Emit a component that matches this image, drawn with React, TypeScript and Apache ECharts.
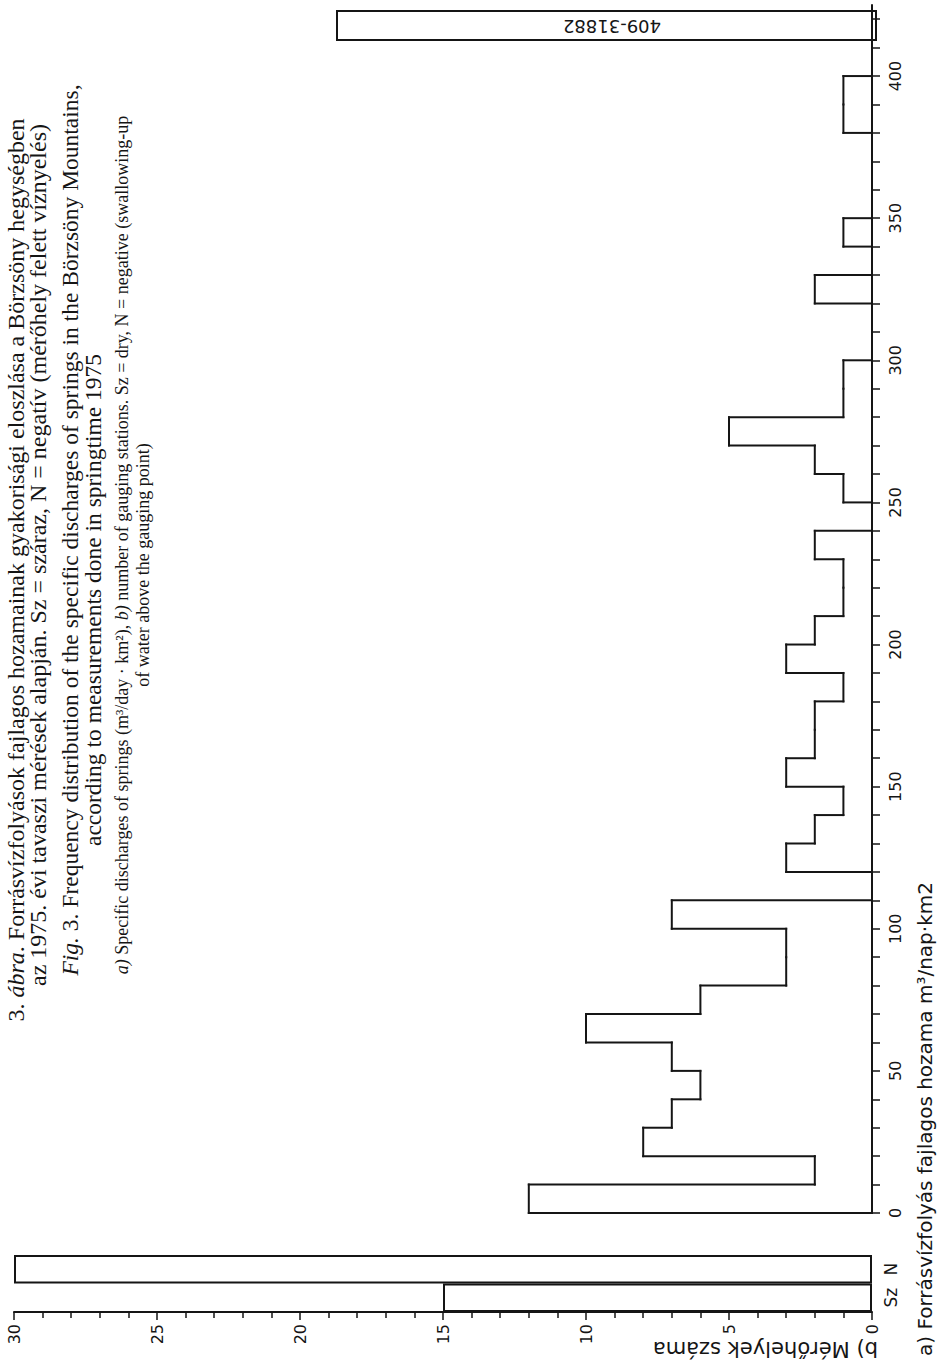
import React, { useEffect, useRef } from "react";
import * as echarts from "echarts";

// Histogram: spring discharge bins (m3/day·km2), 10 units wide, and counts per bin
const binStarts = [0, 10, 20, 30, 40, 50, 60, 70, 80, 90, 100, 110, 120, 130, 140, 150, 160, 170, 180, 190, 200, 210, 220, 230, 240, 250, 260, 270, 280, 290, 300, 310, 320, 330, 340, 350, 360, 370, 380, 390];
const binWidth = 10;
const springCounts = [12, 2, 8, 7, 6, 7, 10, 6, 3, 3, 7, 0, 3, 2, 1, 3, 2, 2, 1, 3, 2, 1, 1, 2, 0, 1, 2, 5, 1, 1, 0, 0, 2, 0, 1, 0, 0, 0, 1, 1];

// Dry (Sz) and negative (N) gauging stations
const specialCategories = ["Sz", "N"];
const specialCounts = [15, 30];

// Tick values
const dischargeLabels = [0, 50, 100, 150, 200, 250, 300, 350, 400];
const dischargeTicks = [0, 10, 20, 30, 40, 50, 60, 70, 80, 90, 100, 110, 120, 130, 140, 150, 160, 170, 180, 190, 200, 210, 220, 230, 240, 250, 260, 270, 280, 290, 300, 310, 320, 330, 340, 350, 360, 370, 380, 390, 400, 410, 420];

const captionLines = [
  "3. {i|ábra}. Forrásvízfolyások fajlagos hozamainak gyakorisági eloszlása a Börzsöny hegységben",
  "az 1975. évi tavaszi mérések alapján. Sz = száraz, N = negatív (mérőhely felett víznyelés)",
  "{i|Fig.} 3. Frequency distribution of the specific discharges of springs in the Börzsöny Mountains,",
  "according to measurements done in springtime 1975",
  "{i|a)} Specific discharges of springs (m³/day · km²), {i|b)} number of gauging stations. Sz = dry, N = negative (swallowing-up",
  "of water above the gauging point)",
];

const INK = "#151515";
const SANS = "'DejaVu Sans', 'Liberation Sans', Arial, sans-serif";
const SERIF = "'Liberation Serif', 'Times New Roman', serif";

export default function App() {
  const ref = useRef<HTMLDivElement>(null);

  useEffect(() => {
    if (!ref.current) return;
    document.body.style.margin = "0";
    const chart = echarts.init(ref.current, undefined, { renderer: "svg" });

    const last = binStarts.length - 1;
    const histData = binStarts.map((s, i) => [
      s,
      s + binWidth,
      springCounts[i],
      i > 0 ? springCounts[i - 1] : 0,
      i === last ? 1 : 0,
    ]);

    const capX = [16, 38, 70, 93, 122, 143];
    const capY = [570, 555, 530, 600, 545, 565];
    const capSize = [24, 24, 23.5, 23.5, 18, 18];

    const captionGraphics = captionLines.map((t, i) => ({
      type: "text",
      x: capX[i],
      y: capY[i],
      rotation: Math.PI / 2,
      silent: true,
      style: {
        text: t,
        fill: INK,
        font: `${capSize[i]}px ${SERIF}`,
        fontSize: capSize[i],
        fontFamily: SERIF,
        align: "center",
        verticalAlign: "middle",
        rich: {
          i: { fontStyle: "italic", fontSize: capSize[i], fontFamily: SERIF, fill: INK },
        },
      },
    }));

    const lineStyle = { stroke: INK, lineWidth: 2, lineCap: "square" };

    chart.setOption({
      animation: false,
      backgroundColor: "#ffffff",
      grid: [
        { left: 14, right: 67, top: 5, height: 1208 },
        { left: 14, right: 67, top: 1255, height: 57 },
      ],
      xAxis: [
        { gridIndex: 0, type: "value", min: 0, max: 30, inverse: true, show: false },
        {
          gridIndex: 1,
          type: "value",
          min: 0,
          max: 30,
          interval: 5,
          inverse: true,
          position: "bottom",
          axisLine: { show: true, onZero: false, lineStyle: { color: INK, width: 2 } },
          axisTick: { show: true, length: 8, lineStyle: { color: INK, width: 1.5 } },
          minorTick: { show: true, splitNumber: 5, length: 6, lineStyle: { color: INK, width: 1.5 } },
          axisLabel: { rotate: 90, margin: 12, color: INK, fontSize: 16, fontFamily: SANS },
          splitLine: { show: false },
          minorSplitLine: { show: false },
        },
      ],
      yAxis: [
        {
          gridIndex: 0,
          type: "value",
          min: 0,
          max: 425,
          position: "right",
          axisLine: { show: true, onZero: false, lineStyle: { color: INK, width: 2 } },
          axisTick: { show: true, customValues: dischargeTicks, length: 8, lineStyle: { color: INK, width: 1.5 } },
          axisLabel: { customValues: dischargeLabels, rotate: 90, margin: 15, color: INK, fontSize: 16, fontFamily: SANS },
          splitLine: { show: false },
        },
        {
          gridIndex: 1,
          type: "category",
          data: specialCategories,
          position: "right",
          axisLine: { show: false },
          axisTick: { show: false },
          axisLabel: { rotate: 90, margin: 10, color: INK, fontSize: 17, fontFamily: SANS },
          splitLine: { show: false },
        },
      ],
      series: [
        {
          type: "custom",
          xAxisIndex: 0,
          yAxisIndex: 0,
          data: histData,
          encode: { x: 2, y: [0, 1] },
          renderItem: (params: any, api: any) => {
            const start = api.value(0);
            const end = api.value(1);
            const cnt = api.value(2);
            const prev = api.value(3);
            const isLast = api.value(4) === 1;
            const children: any[] = [];
            if (cnt > 0) {
              const a = api.coord([cnt, start]);
              const b = api.coord([cnt, end]);
              children.push({ type: "line", shape: { x1: a[0], y1: a[1], x2: b[0], y2: b[1] }, style: lineStyle });
            }
            if (prev !== cnt) {
              const a = api.coord([prev, start]);
              const b = api.coord([cnt, start]);
              children.push({ type: "line", shape: { x1: a[0], y1: a[1], x2: b[0], y2: b[1] }, style: lineStyle });
            }
            if (isLast && cnt > 0) {
              const a = api.coord([cnt, end]);
              const b = api.coord([0, end]);
              children.push({ type: "line", shape: { x1: a[0], y1: a[1], x2: b[0], y2: b[1] }, style: lineStyle });
            }
            return { type: "group", children };
          },
        },
        {
          type: "bar",
          xAxisIndex: 1,
          yAxisIndex: 1,
          data: specialCounts,
          barWidth: "100%",
          barCategoryGap: 0,
          itemStyle: { color: "#ffffff", borderColor: INK, borderWidth: 2 },
        },
      ],
      graphic: [
        {
          type: "rect",
          silent: true,
          shape: { x: 337, y: 11, width: 539, height: 29 },
          style: { fill: "none", stroke: INK, lineWidth: 2 },
        },
        {
          type: "text",
          silent: true,
          x: 612,
          y: 26,
          rotation: Math.PI,
          style: { text: "409-31882", fill: INK, font: `18px ${SANS}`, align: "center", verticalAlign: "middle" },
        },
        {
          type: "text",
          silent: true,
          x: 925,
          y: 1356,
          rotation: Math.PI / 2,
          style: {
            text: "a) Forrásvízfolyás fajlagos hozama m³/nap·km2",
            fill: INK,
            font: `20px ${SANS}`,
            align: "left",
            verticalAlign: "middle",
          },
        },
        {
          type: "text",
          silent: true,
          x: 878,
          y: 1349,
          rotation: Math.PI,
          style: {
            text: "b) Mérőhelyek száma",
            fill: INK,
            font: `21px ${SANS}`,
            align: "left",
            verticalAlign: "middle",
          },
        },
        ...captionGraphics,
      ],
    });

    return () => chart.dispose();
  }, []);

  return (
    <div
      ref={ref}
      style={{ position: "fixed", left: 0, top: 0, width: 939, height: 1366, background: "#fff" }}
    />
  );
}
